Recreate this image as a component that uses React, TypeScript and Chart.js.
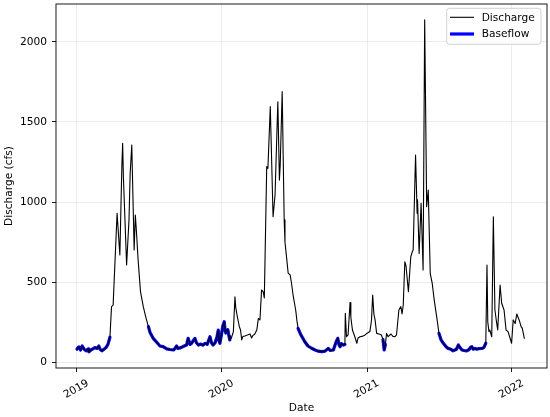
import React, { useEffect, useRef } from "react";
import { Chart, registerables } from "chart.js";

Chart.register(...registerables);

// Days since 2019-01-01 and discharge (cfs)
const tickDays = [0, 365, 731, 1096];
const tickLabels = ["2019", "2020", "2021", "2022"];
const yTicks = [0, 500, 1000, 1500, 2000];
const seriesLabels = ["Discharge", "Baseflow"];

const dischargeDays = [
  0, 3, 5, 9, 13, 18, 23, 28, 30, 35, 40, 45, 50, 55, 58, 63, 68, 73, 78, 83,
  87, 91, 101, 108, 113, 115, 117, 125, 131, 134, 138, 144, 147, 150, 154, 160, 167, 174,
  180, 184, 192, 202, 209, 217, 226, 234, 243, 247, 251, 254, 262, 270, 276, 280, 285, 289, 292, 297, 301, 306, 312, 317, 323, 328, 335, 339, 343, 348, 353, 356, 358, 360, 364, 367, 371, 373, 375, 380, 383, 385,
  389, 394, 398, 400, 404, 409, 412, 415, 418, 423, 431, 436, 440, 443, 448, 453, 457, 461, 465, 469, 472, 478, 481, 487, 494, 499, 506, 510, 512, 517, 522, 524, 527, 532, 537, 540, 545, 551, 554,
  557, 564, 574, 582, 591, 600, 607, 617, 625, 633, 638, 646, 653, 657, 660, 663, 666, 671, 675,
  676, 679, 683, 688, 690, 694, 700, 705, 708, 713, 718, 726, 731, 738, 742, 745, 748, 751, 755, 761, 767,
  771, 774, 777,
  780, 784, 791, 796, 801, 805, 811, 816, 819, 822, 826, 829, 835, 841, 845, 847, 853, 857, 858, 862, 867, 872, 876, 881, 885, 890, 895, 900, 908,
  912, 917, 923, 930, 935, 942, 947, 952, 956, 961, 965, 970, 975, 982, 988, 992, 995, 998, 1003, 1008, 1013, 1020, 1025, 1030,
  1033, 1035, 1038, 1040, 1045, 1049, 1053, 1057, 1060, 1066, 1070, 1076, 1081, 1086, 1091, 1095, 1099, 1104, 1108, 1114, 1119, 1122, 1127,
];

const dischargeValues = [
  80, 92, 95, 75, 100, 80, 70, 82, 64, 75, 82, 90, 85, 100, 80, 70, 80, 90, 110, 155,
  346, 355, 929, 669, 1221, 1367, 1150, 606, 888, 1181, 1356, 700, 919, 806, 637, 440, 346, 274,
  221, 185, 148, 120, 100, 96, 82, 78, 75, 85, 100, 85, 90, 100, 106, 148, 110, 117, 130, 148, 120, 106, 112, 105, 117, 110, 158, 120, 106, 120, 160, 200, 130, 117, 170, 221, 252, 200, 181, 202, 160, 138,
  150, 190, 408, 340, 283, 221, 200, 138, 160, 163, 170, 175, 150, 165, 175, 200, 273, 263, 450, 440, 400, 1221, 1210, 1596, 908, 1044, 1627, 1137, 1231, 1690, 888, 750, 679, 556, 544, 500, 408, 325, 260,
  210, 170, 127, 100, 86, 75, 68, 65, 68, 85, 72, 75, 127, 148, 110, 96, 115, 106, 110,
  304, 158, 170, 371, 280, 200, 158, 117, 150, 158, 160, 169, 180, 190, 260, 419, 300, 263, 179, 175, 169,
  140, 75, 110,
  179, 158, 175, 160, 158, 169, 325, 346, 300, 356, 627, 600, 440, 658, 690, 700, 1294, 929, 1013, 679, 992, 575, 2138, 971, 1075, 554, 492, 388, 252,
  179, 140, 117, 95, 85, 80, 70, 75, 80, 106, 90, 75, 72, 70, 78, 92, 96, 80, 85, 80, 84, 85, 90, 117,
  606, 250, 190, 200, 158, 908, 325, 250, 200, 481, 367, 325, 200, 190, 150, 117, 263, 240, 300, 263, 221, 210, 148,
];

// Periods (day ranges) flagged as baseflow
const baseflowStart = [0, 180, 557, 771, 912];
const baseflowEnd = [83, 385, 675, 777, 1030];

const FONT_FAMILY = "'DejaVu Sans', sans-serif";
const FONT_SIZE = 10.6;

export default function App() {
  const ref = useRef<HTMLCanvasElement>(null);

  useEffect(() => {
    document.body.style.margin = "0";
    const canvas = ref.current;
    if (!canvas) return;

    const discharge = dischargeDays.map((d, i) => ({ x: d, y: dischargeValues[i] }));
    const inBase = (d: number) =>
      baseflowStart.some((s, k) => d >= s && d <= baseflowEnd[k]);
    const baseflow = dischargeDays.map((d, i) => ({
      x: d,
      y: inBase(d) ? dischargeValues[i] : null,
    }));

    const font = { family: FONT_FAMILY, size: FONT_SIZE };

    const framePlugin = {
      id: "frame",
      afterDatasetsDraw(chart: any) {
        const { ctx, chartArea: a } = chart;
        ctx.save();
        ctx.strokeStyle = "#000";
        ctx.lineWidth = 0.9;
        ctx.strokeRect(a.left, a.top, a.right - a.left, a.bottom - a.top);
        ctx.restore();
      },
    };

    const legendPlugin = {
      id: "boxLegend",
      afterDraw(chart: any) {
        const { ctx, chartArea: a } = chart;
        const w = 94.3;
        const h = 36;
        const right = a.right - 6;
        const left = right - w;
        const top = a.top + 4.3;
        ctx.save();
        ctx.beginPath();
        if ((ctx as any).roundRect) (ctx as any).roundRect(left, top, w, h, 3);
        else ctx.rect(left, top, w, h);
        ctx.fillStyle = "rgba(255,255,255,0.8)";
        ctx.fill();
        ctx.strokeStyle = "#cccccc";
        ctx.lineWidth = 0.9;
        ctx.stroke();
        chart.data.datasets.forEach((ds: any, i: number) => {
          const y = top + 9 + i * 16.7;
          ctx.strokeStyle = ds.borderColor;
          ctx.lineWidth = ds.borderWidth;
          ctx.lineCap = "butt";
          ctx.beginPath();
          ctx.moveTo(left + 3.3, y);
          ctx.lineTo(left + 27.3, y);
          ctx.stroke();
          ctx.fillStyle = "#000";
          ctx.font = `${FONT_SIZE}px ${FONT_FAMILY}`;
          ctx.textBaseline = "middle";
          ctx.textAlign = "left";
          ctx.fillText(ds.label, left + 35, y + 0.5);
        });
        ctx.restore();
      },
    };

    const grid = {
      color: "rgba(176,176,176,0.3)",
      lineWidth: 0.8,
      tickColor: "#000",
      tickWidth: 0.9,
      tickLength: 4,
      drawTicks: true,
    };

    const chart = new Chart(canvas, {
      type: "line",
      data: {
        datasets: [
          {
            label: seriesLabels[0],
            data: discharge,
            borderColor: "#000000",
            borderWidth: 1.1,
            borderJoinStyle: "round",
            borderCapStyle: "round",
            pointRadius: 0,
            tension: 0,
          },
          {
            label: seriesLabels[1],
            data: baseflow as any,
            borderColor: "#0000ff",
            borderWidth: 3.2,
            borderJoinStyle: "round",
            borderCapStyle: "round",
            pointRadius: 0,
            tension: 0,
            spanGaps: false,
          },
        ],
      },
      options: {
        animation: false,
        responsive: false,
        events: [],
        layout: { padding: { top: 4, right: 3, left: 0, bottom: 0 } },
        plugins: { legend: { display: false }, tooltip: { enabled: false } },
        scales: {
          x: {
            type: "linear",
            min: -52.9,
            max: 1184.2,
            afterBuildTicks: (s: any) => {
              s.ticks = tickDays.map((v) => ({ value: v }));
            },
            afterFit: (s: any) => {
              s.height = 49;
              s.paddingLeft = 0;
              s.paddingRight = 0;
            },
            ticks: {
              callback: (_v: any, i: number) => tickLabels[i],
              minRotation: 30,
              maxRotation: 30,
              autoSkip: false,
              font,
              color: "#000",
              padding: 5,
              labelOffset: 11,
            },
            grid,
            border: { display: false },
            title: {
              display: true,
              text: "Date",
              font,
              color: "#000",
              padding: { top: 0, bottom: 2 },
            },
          },
          y: {
            type: "linear",
            min: -37.5,
            max: 2237.5,
            afterBuildTicks: (s: any) => {
              s.ticks = yTicks.map((v) => ({ value: v }));
            },
            afterFit: (s: any) => {
              s.width = 56;
              s.paddingTop = 0;
              s.paddingBottom = 0;
            },
            ticks: {
              callback: (v: any) => String(v),
              font,
              color: "#000",
              padding: 5,
            },
            grid,
            border: { display: false },
            title: {
              display: true,
              text: "Discharge (cfs)",
              font,
              color: "#000",
              padding: { top: 3, bottom: 0 },
            },
          },
        },
      },
      plugins: [framePlugin, legendPlugin],
    });

    return () => chart.destroy();
  }, []);

  return (
    <canvas
      ref={ref}
      width={550}
      height={417}
      style={{ display: "block", width: 550, height: 417 }}
    />
  );
}
